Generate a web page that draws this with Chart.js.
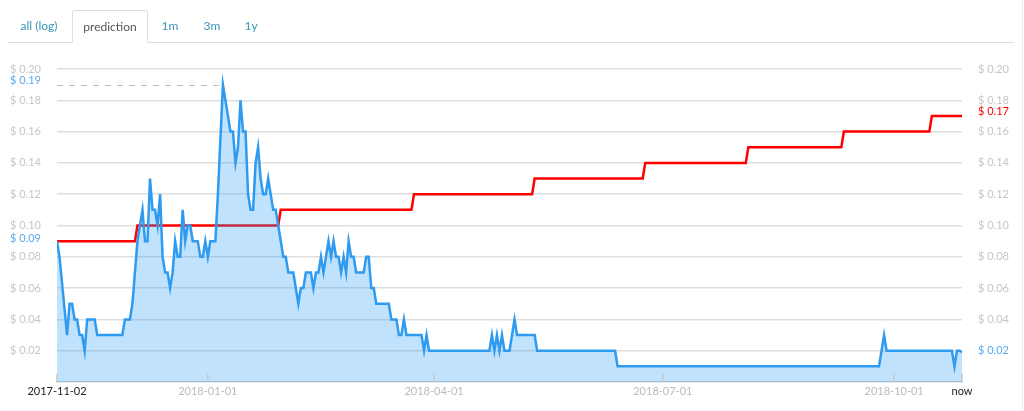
<!DOCTYPE html>
<html>
<head>
<meta charset="utf-8">
<script src="https://cdn.jsdelivr.net/npm/chart.js@4.4.1/dist/chart.umd.min.js"></script>
<style>
html,body{margin:0;padding:0;background:#fff;}
#wrap{position:relative;width:1024px;height:411px;overflow:hidden;font-family:Lato,"Open Sans",sans-serif;}
#c{position:absolute;left:0;top:0;}
.tabs{position:absolute;left:8px;top:10px;width:1006px;height:32px;border-bottom:1px solid #ddd;}
.tab{position:absolute;top:0;height:32px;line-height:32px;font-size:12px;color:#3b95b8;text-align:center;box-sizing:border-box;}
.tab.active{border:1px solid #ddd;border-bottom:1px solid #fff;border-radius:3px 3px 0 0;color:#555;height:33px;line-height:31px;background:#fff;}
.edge{position:absolute;left:1022px;top:0;width:1px;height:411px;background:#eee;}
</style>
</head>
<body>
<div id="wrap">
  <canvas id="c" width="1024" height="411"></canvas>
  <div class="tabs">
    <div class="tab" style="left:1px;width:60px;">all (log)</div>
    <div class="tab active" style="left:64px;width:76px;">prediction</div>
    <div class="tab" style="left:147px;width:30px;">1m</div>
    <div class="tab" style="left:189px;width:30px;">3m</div>
    <div class="tab" style="left:228px;width:30px;">1y</div>
  </div>
  <div class="edge"></div>
</div>
<script>
// ---- data (days since 2017-11-02) ----
const priceDays = [0,1,4,5,6,7,8,9,10,11,12,15,16,26,27,29,30,31,32,34,35,36,37,38,39,40,41,42,43,44,45,46,47,48,49,50,51,52,53,54,56,57,58,59,60,61,63,64,66,69,70,71,72,73,74,75,76,77,78,79,80,81,82,83,84,85,86,87,88,90,91,92,94,96,97,98,99,101,102,103,104,105,106,108,109,110,111,112,113,114,115,116,117,118,119,122,123,124,125,126,127,132,133,135,136,137,138,139,145,146,147,148,172,173,174,175,176,177,178,180,182,183,190,191,222,223,327,329,330,356,357,358,359,360];
const priceValues = [0.09,0.08,0.03,0.05,0.05,0.04,0.04,0.03,0.03,0.02,0.04,0.04,0.03,0.03,0.04,0.04,0.05,0.07,0.09,0.11,0.09,0.09,0.13,0.11,0.11,0.10,0.12,0.08,0.07,0.07,0.06,0.07,0.09,0.08,0.08,0.11,0.09,0.10,0.10,0.09,0.09,0.08,0.08,0.09,0.08,0.09,0.09,0.12,0.19,0.16,0.16,0.14,0.15,0.18,0.16,0.16,0.12,0.11,0.11,0.14,0.15,0.13,0.12,0.12,0.13,0.12,0.11,0.11,0.10,0.08,0.08,0.07,0.07,0.05,0.06,0.06,0.07,0.07,0.06,0.07,0.07,0.08,0.07,0.09,0.08,0.09,0.08,0.08,0.07,0.08,0.07,0.09,0.08,0.08,0.07,0.07,0.08,0.08,0.06,0.06,0.05,0.05,0.04,0.04,0.03,0.03,0.04,0.03,0.03,0.02,0.03,0.02,0.02,0.03,0.02,0.03,0.02,0.03,0.02,0.02,0.04,0.03,0.03,0.02,0.02,0.01,0.01,0.03,0.02,0.02,0.01,0.02,0.02,0.019];
const predDays = [0,31,32,88,89,141,142,189,190,233,234,274,275,312,313,347,348,360];
const predValues = [0.09,0.09,0.10,0.10,0.11,0.11,0.12,0.12,0.13,0.13,0.14,0.14,0.15,0.15,0.16,0.16,0.17,0.17];
const xTickDays = [0,60,150,241,333,360];
const xTickLabels = ['2017-11-02','2018-01-01','2018-04-01','2018-07-01','2018-10-01','now'];
const yTickValues = [0.02,0.04,0.06,0.08,0.10,0.12,0.14,0.16,0.18,0.20];

const GRAY = '#c6c6c6';
const BLUE_TXT = '#5aaaee';
const fmt = v => '$ ' + Number(v).toFixed(2);
const peakValue = Math.max(...priceValues);
const peakDay = priceDays[priceValues.indexOf(peakValue)];
const startValue = priceValues[0];
const lastPred = predValues[predValues.length-1];
const currentPrice = Math.round(priceValues[priceValues.length-1]*100)/100;

const overlay = {
  id:'overlay',
  afterDatasetsDraw(chart){
    const {ctx, chartArea:a, scales:{x,y}} = chart;
    ctx.save();
    // dashed line at peak
    const py = y.getPixelForValue(peakValue);
    ctx.setLineDash([6,6]);
    ctx.strokeStyle = '#bdbdbd';
    ctx.lineWidth = 1;
    ctx.beginPath();
    ctx.moveTo(a.left, Math.round(py)+0.5);
    ctx.lineTo(x.getPixelForValue(peakDay), Math.round(py)+0.5);
    ctx.stroke();
    ctx.setLineDash([]);
    // tick marks inside plot
    ctx.strokeStyle = '#c8c8c8';
    ctx.lineWidth = 1.5;
    xTickDays.forEach(d => {
      const px = x.getPixelForValue(d);
      ctx.beginPath();
      ctx.moveTo(px, a.bottom);
      ctx.lineTo(px, a.bottom - 8);
      ctx.stroke();
    });
    // special labels
    ctx.font = '11px Lato';
    ctx.textBaseline = 'middle';
    ctx.textAlign = 'right';
    ctx.fillStyle = BLUE_TXT;
    ctx.fillText(fmt(peakValue), a.left - 16, py - 4);
    ctx.fillText(fmt(startValue), a.left - 16, y.getPixelForValue(startValue) - 3);
    ctx.textAlign = 'left';
    ctx.fillStyle = '#ff0000';
    ctx.fillText(fmt(lastPred), a.right + 16, y.getPixelForValue(lastPred) - 4);
    ctx.restore();
  }
};

Chart.defaults.font.family = 'Lato';
Chart.defaults.font.size = 11;

new Chart(document.getElementById('c'), {
  type:'line',
  data:{
    datasets:[
      {label:'price', data: priceDays.map((d,i)=>({x:d,y:priceValues[i]})),
       borderColor:'#2e9bf0', backgroundColor:'rgba(33,150,243,0.28)', fill:'origin',
       borderWidth:2.5, pointRadius:0, tension:0, yAxisID:'y'},
      {label:'prediction', data: predDays.map((d,i)=>({x:d,y:predValues[i]})),
       borderColor:'#ff0000', fill:false, borderWidth:2.5, pointRadius:0, tension:0, yAxisID:'y'}
    ]
  },
  options:{
    responsive:false, animation:false,
    layout:{padding:{top:69,left:0,right:0,bottom:0}},
    plugins:{legend:{display:false}, tooltip:{enabled:false}},
    scales:{
      x:{type:'linear', min:0, max:360,
        afterBuildTicks:s=>{ s.ticks = xTickDays.map(v=>({value:v})); },
        ticks:{autoSkip:false, maxRotation:0, padding:3,
          color:c => (c.index===0 || c.index===xTickDays.length-1) ? '#222' : '#bbb',
          callback:(v,i)=>xTickLabels[i]},
        grid:{display:false, drawTicks:false},
        border:{display:true, color:'#cfcfcf', width:1.5},
        afterFit:s=>{ s.height = 29; }
      },
      y:{position:'left', min:0, max:0.2,
        afterBuildTicks:s=>{ s.ticks = yTickValues.map(v=>({value:v})); },
        ticks:{padding:16, color:GRAY, callback:v=>fmt(v)},
        grid:{color:'#dedede', lineWidth:1.5, drawTicks:false},
        border:{display:false},
        afterFit:s=>{ s.width = 57; }
      },
      y2:{position:'right', min:0, max:0.2,
        afterBuildTicks:s=>{ s.ticks = yTickValues.map(v=>({value:v})); },
        ticks:{padding:16, color:c => Math.abs(c.tick.value-currentPrice)<1e-6 ? BLUE_TXT : GRAY, callback:v=>fmt(v)},
        grid:{display:false, drawTicks:false},
        border:{display:false},
        afterFit:s=>{ s.width = 62; }
      }
    }
  },
  plugins:[overlay]
});
</script>
</body>
</html>
